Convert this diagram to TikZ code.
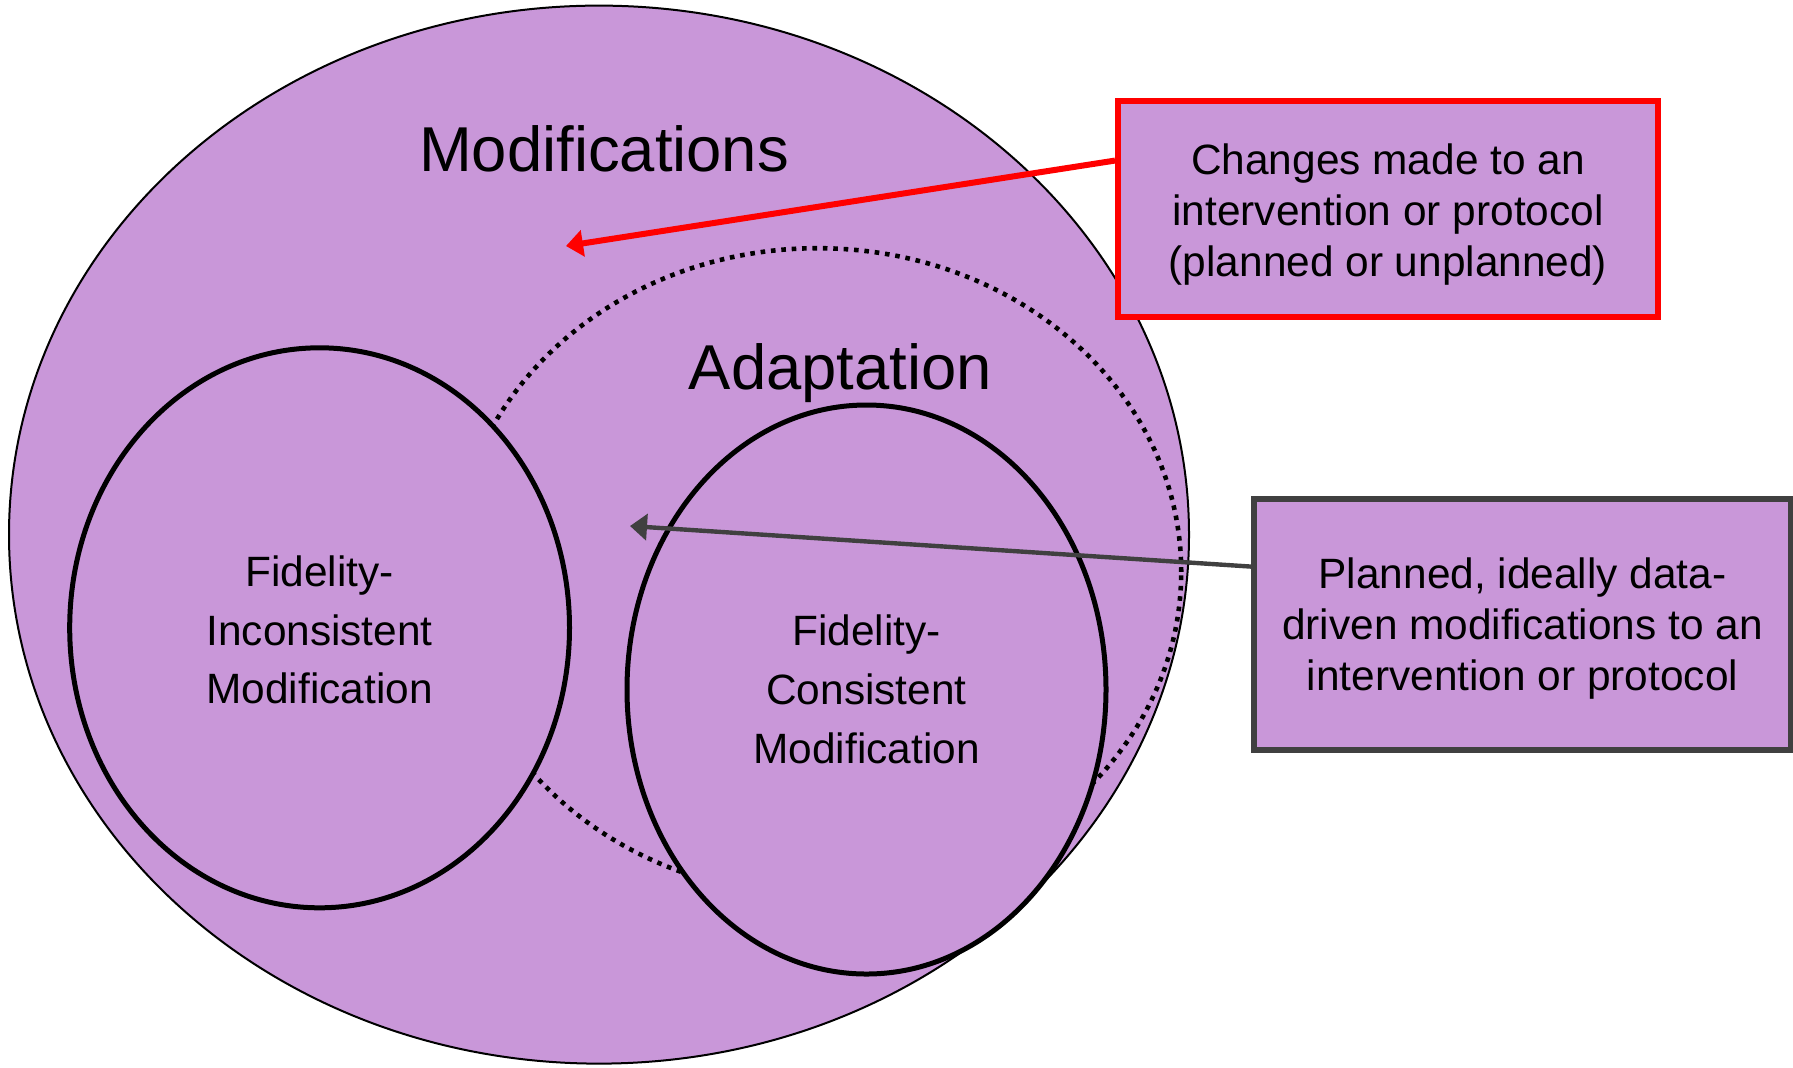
\documentclass[tikz,border=0pt]{standalone}
\usepackage{fontspec}
\setmainfont{Liberation Sans}
\usetikzlibrary{shapes.geometric,arrows.meta}
\definecolor{lilac}{RGB}{201,151,217}
\definecolor{darkline}{RGB}{64,64,64}
\definecolor{boxred}{RGB}{255,0,0}
\begin{document}
\begin{tikzpicture}[x=0.5pt,y=-0.5pt,
  setarea/.style={ellipse, fill=lilac, draw=black, inner sep=0pt, align=center,
    font=\fontsize{21.2pt}{29.4pt}\selectfont},
  subset/.style={setarea, line width=2.5pt},
  bigtitle/.style={font=\fontsize{31.7pt}{38pt}\selectfont, anchor=base, inner sep=0pt},
  notebox/.style={rectangle, fill=lilac, align=center, inner sep=0pt,
    font=\fontsize{21.2pt}{25.4pt}\selectfont},
  pointer/.style={-{Triangle[length=8.5pt,width=13pt]}}
]
\useasboundingbox (0,0) rectangle (1793,1067);

% outer set: all modifications
\node[setarea, line width=1pt, minimum width=590pt, minimum height=529pt] (mods) at (599,534.6) {};
% adaptation region, dotted outline
\node[setarea, draw=none, minimum width=363.6pt, minimum height=323.6pt] (adapt) at (817.6,571.8) {};
\draw[line width=2.3pt, dash pattern=on 2.3pt off 2.9pt] (adapt.center) ellipse [x radius=181.8pt, y radius=161.8pt];
% the two kinds of modification
\node[subset, minimum width=249.9pt, minimum height=280pt] (fim) at (319.6,627.8)
  {\rule{0pt}{17.5pt}Fidelity-\\Inconsistent\\Modification};
\node[subset, minimum width=239.5pt, minimum height=284.5pt] (fcm) at (866.5,689.5)
  {Fidelity-\\Consistent\\Modification};

% set titles
\node[bigtitle] (modtitle) at (604,171.5) {Modifications};
\node[bigtitle] (adapttitle) at (840.5,389) {Adaptation};

% explanatory boxes
\node[notebox, draw=boxred, line width=3pt, minimum width=270pt, minimum height=108pt] (defmod) at (1388,208.7)
  {\rule{0pt}{20.9pt}Changes made to an\\intervention or protocol\\(planned or unplanned)};
\node[notebox, draw=darkline, line width=3.1pt, minimum width=268.5pt, minimum height=125.7pt] (defadapt) at (1522.5,624.3)
  {\rule{0pt}{19.8pt}Planned, ideally data-\\driven modifications to an\\intervention or protocol};

% pointers into the sets
\coordinate (modtip) at (566,246);
\coordinate (adapttip) at (630,526);
\draw[pointer, draw=boxred, fill=boxred, line width=3pt] (defmod.170) -- (modtip);
\draw[pointer, draw=darkline, fill=darkline, line width=2.2pt] (defadapt.168) -- (adapttip);
\end{tikzpicture}
\end{document}
